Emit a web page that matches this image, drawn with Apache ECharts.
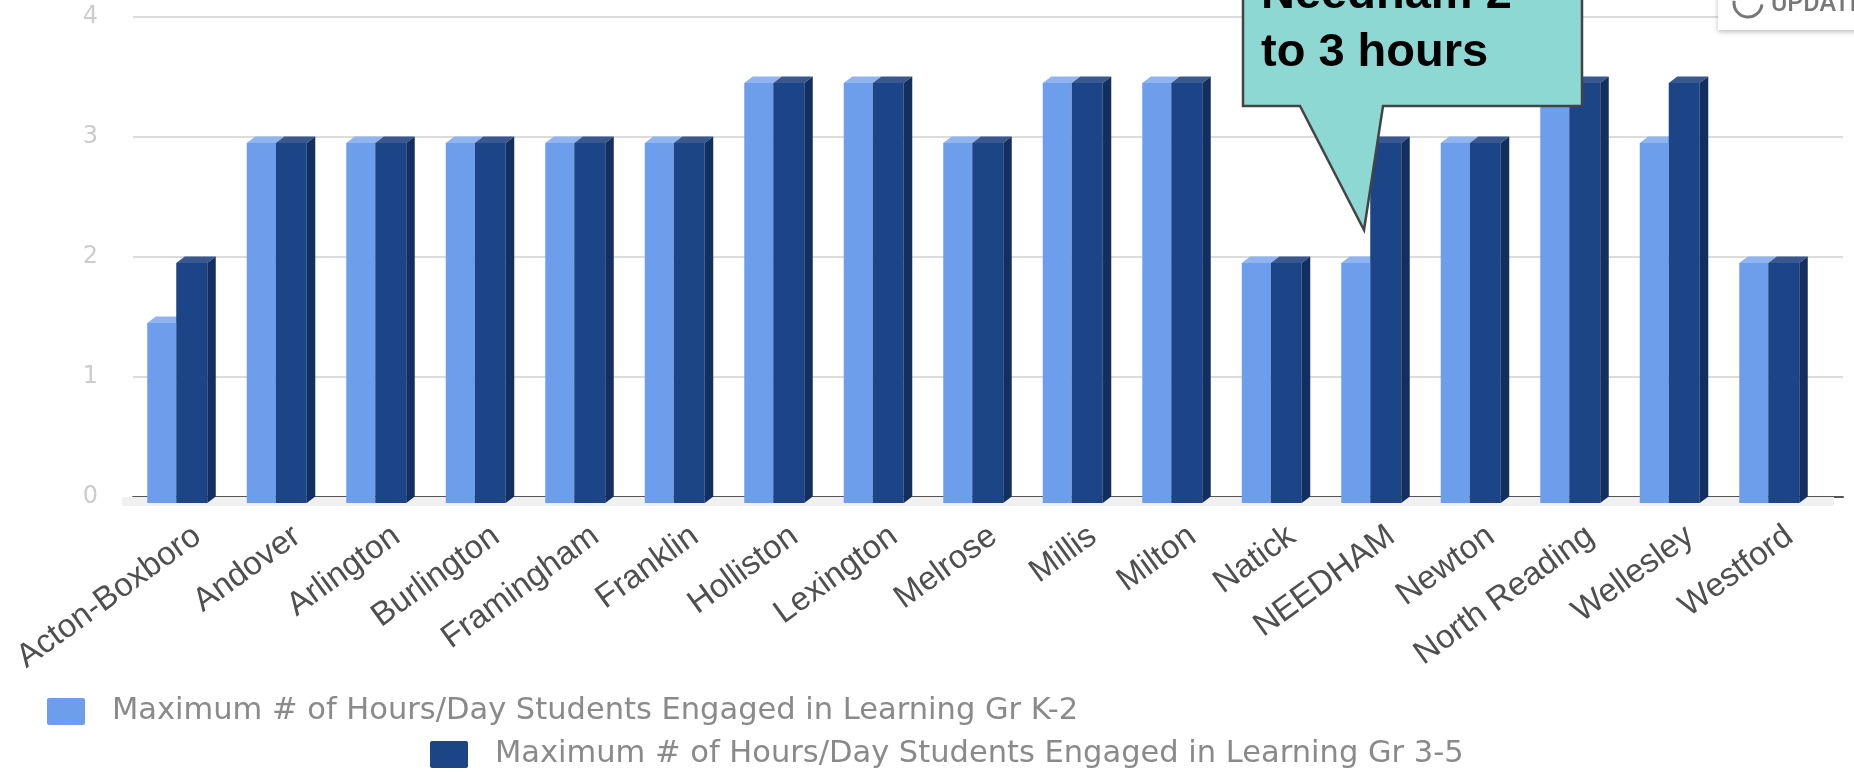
<!DOCTYPE html>
<html><head><meta charset="utf-8">
<style>html,body{margin:0;padding:0;background:#fff;overflow:hidden}#c{width:1854px;height:772px}</style>
<script src="https://cdn.jsdelivr.net/npm/echarts@6/dist/echarts.min.js"></script>
</head><body><div id="c"></div>
<script>
const categories = ["Acton-Boxboro","Andover","Arlington","Burlington","Framingham","Franklin","Holliston","Lexington","Melrose","Millis","Milton","Natick","NEEDHAM","Newton","North Reading","Wellesley","Westford"];
const gradeK2 = [1.5,3,3,3,3,3,3.5,3.5,3,3.5,3.5,2,2,3,3.5,3,2];
const grade35 = [2,3,3,3,3,3,3.5,3.5,3,3.5,3.5,2,3,3,3.5,3.5,2];
const seriesNames = ["Maximum # of Hours/Day Students Engaged in Learning Gr K-2","Maximum # of Hours/Day Students Engaged in Learning Gr 3-5"];
const calloutLines = ["Needham 2","to 3 hours"];

const chart = echarts.init(document.getElementById('c'), null, {renderer:'canvas'});
const D = 6.5, DX = 8.5;
function bar3d(l, r, colors, withSide){
  return function(params, api){
    const c = api.coord([api.value(0), api.value(1)]);
    const z = api.coord([api.value(0), 0]);
    const x0 = c[0] + l, x1 = c[0] + r, yb = c[1], yf = c[1] + D, bot = z[1] + D;
    const kids = [
      {type:'polygon', shape:{points:[[x0,yf],[x1,yf],[x1+DX,yb],[x0+DX,yb]]}, style:{fill:colors.top}},
      {type:'rect', shape:{x:x0,y:yf,width:x1-x0,height:bot-yf}, style:{fill:colors.front}}
    ];
    if(withSide) kids.push({type:'polygon', shape:{points:[[x1,yf],[x1+DX,yb],[x1+DX,z[1]],[x1,bot]]}, style:{fill:colors.side}});
    return {type:'group', children:kids};
  };
}
const light = {front:'#6d9eeb', top:'#8fb4ef', side:'#4a78c0'};
const dark = {front:'#1c4587', top:'#38588f', side:'#132f5f'};
const swatch = 'path://M2 0H36Q38 0 38 2V25Q38 27 36 27H2Q0 27 0 25V2Q0 0 2 0Z';
const lg = (name,left,top)=>({show:true,left,top,orient:'horizontal',data:[name],selectedMode:false,icon:swatch,
  itemWidth:38,itemHeight:27,padding:0,textStyle:{fontFamily:'DejaVu Sans',fontSize:30.5,color:'#8a8a8a',padding:[0,0,0,22]}});

chart.setOption({
  animation:false,
  backgroundColor:'#fff',
  grid:[
    {left:131.5,width:1691.5,top:16.5,bottom:275.4},
    {left:133,right:11,top:16.5,bottom:275.4}
  ],
  xAxis:[
    {type:'category',gridIndex:0,data:categories,axisLine:{show:false},axisTick:{show:false},
      axisLabel:{interval:0,rotate:36,margin:48,fontFamily:'Liberation Sans',fontSize:33,color:'#4f4f4f',padding:[0,-20,0,0]}},
    {type:'category',gridIndex:1,data:categories,axisLine:{show:true,onZero:false,lineStyle:{color:'#555',width:2}},axisTick:{show:false},axisLabel:{show:false}}
  ],
  yAxis:[
    {type:'value',gridIndex:0,min:0,max:4,interval:1,show:false},
    {type:'value',gridIndex:1,min:0,max:4,interval:1,axisLine:{show:false},axisTick:{show:false},
      axisLabel:{margin:35,fontFamily:'DejaVu Sans',fontSize:24,color:'#cccccc',padding:[3,0,0,0]},
      splitLine:{lineStyle:{color:'#dcdcdc',width:2}}}
  ],
  legend:[lg(seriesNames[0],47,696),lg(seriesNames[1],430,739)],
  series:[
    {type:'custom',name:seriesNames[0],xAxisIndex:0,yAxisIndex:0,itemStyle:{color:light.front},z:3,
      data:gradeK2.map((v,i)=>[i,v]),encode:{x:0,y:1},renderItem:bar3d(-34,-5,light,false)},
    {type:'custom',name:seriesNames[1],xAxisIndex:0,yAxisIndex:0,itemStyle:{color:dark.front},z:4,
      data:grade35.map((v,i)=>[i,v]),encode:{x:0,y:1},renderItem:bar3d(-5,26,dark,true)}
  ],
  graphic:[
    {type:'rect',z:1,shape:{x:122,y:497,width:1712,height:9},style:{fill:'#f0f0f0'}},
    {type:'rect',z:20,shape:{x:1718,y:-10,width:150,height:40},
      style:{fill:'#fff',shadowBlur:5,shadowColor:'rgba(0,0,0,0.25)',shadowOffsetY:2}},
    {type:'arc',z:21,shape:{cx:1748,cy:3,r:14,startAngle:0.1,endAngle:Math.PI*1.05,clockwise:true},
      style:{stroke:'#777',lineWidth:3,fill:null}},
    {type:'text',z:21,x:1771,y:-8,style:{text:'UPDATE',fontFamily:'Roboto',fontWeight:500,fontSize:25,fill:'#777'}},
    {type:'polygon',z:30,shape:{points:[[1243,-5],[1582,-5],[1582,106],[1383,106],[1364,230],[1300,106],[1243,106]]},
      style:{fill:'#8dd8d2',stroke:'#444',lineWidth:2.5}},
    {type:'text',z:31,x:1261,y:-34,style:{text:calloutLines.join('\n'),fontFamily:'Liberation Sans',fontWeight:'bold',fontSize:47,lineHeight:58,fill:'#000'}}
  ]
});
</script></body></html>
